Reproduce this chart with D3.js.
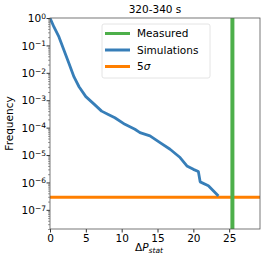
<!DOCTYPE html>
<html>
<head>
<meta charset="utf-8">
<script src="https://cdn.jsdelivr.net/npm/d3@7"></script>
<style>
  body { margin: 0; background: #fff; }
  text { font-family: "DejaVu Sans", sans-serif; fill: #000; }
</style>
</head>
<body>
<div id="chart"></div>
<script>
// simulated distribution
var simX = [0, 0.55, 1.25, 1.95, 2.65, 3.35, 4.05, 5.0, 6.15, 7.2, 8.2, 9.05, 10.45, 11.85, 12.55, 13.95, 15.35, 16.75, 18.15, 19.1, 20.0, 20.7, 20.95, 22.1, 23.5];
var simY = [1, 0.47, 0.204, 0.066, 0.0219, 0.0071, 0.0031, 0.00135, 0.00072, 0.0004, 0.000295, 0.000229, 0.000132, 0.000087, 0.000066, 0.00005, 0.0000282, 0.0000162, 0.0000081, 0.000004, 0.000003, 0.0000025, 0.00000105, 0.00000076, 0.00000032];
var measured = 25.45;
var fiveSigma = 2.87e-7;
var xTicks = [0, 5, 10, 15, 20, 25];
var yExps = [0, -1, -2, -3, -4, -5, -6, -7];
var legendNames = ["Measured", "Simulations", "5σ"];
var legendColors = ["#4daf4a", "#377eb8", "#ff7f00"];

var W = 266, H = 266;
var margin = {left: 50, top: 18, right: 6, bottom: 37};
var width = W - margin.left - margin.right;
var height = H - margin.top - margin.bottom;

var svg = d3.select("#chart").append("svg")
    .attr("width", W)
    .attr("height", H);

var g = svg.append("g")
    .attr("transform", "translate(" + margin.left + "," + margin.top + ")");

var x = d3.scaleLinear().domain([0, 29.3]).range([0, width]);
var y = d3.scaleLog().domain([2e-8, 1]).range([height, 0]);

// clip
svg.append("defs").append("clipPath").attr("id", "clip")
    .append("rect").attr("width", width).attr("height", height);

var plot = g.append("g").attr("clip-path", "url(#clip)");

// 5 sigma line
plot.append("line")
    .attr("x1", 0).attr("x2", width)
    .attr("y1", y(fiveSigma)).attr("y2", y(fiveSigma))
    .attr("stroke", legendColors[2]).attr("stroke-width", 3);

// simulations
var sim = simX.map(function (d, i) { return {x: d, y: simY[i]}; });
plot.append("path")
    .datum(sim)
    .attr("fill", "none")
    .attr("stroke", legendColors[1])
    .attr("stroke-width", 2.8)
    .attr("stroke-linejoin", "round")
    .attr("d", d3.line()
        .x(function (d) { return x(d.x); })
        .y(function (d) { return y(d.y); }));

// measured
plot.append("line")
    .attr("x1", x(measured)).attr("x2", x(measured))
    .attr("y1", 0).attr("y2", height)
    .attr("stroke", legendColors[0]).attr("stroke-width", 4);

// x axis
var xAxis = g.append("g")
    .attr("transform", "translate(0," + height + ")")
    .call(d3.axisBottom(x).tickValues(xTicks).tickSize(3.5).tickPadding(2).tickFormat(d3.format("d")));
xAxis.select(".domain").remove();
xAxis.selectAll(".tick line").attr("stroke", "#333");
xAxis.selectAll("text").style("font-size", "10.5px");

// y axis, major + minor ticks
var minor = [];
for (var e = -8; e < 0; e++) {
    for (var k = 2; k <= 9; k++) {
        var v = k * Math.pow(10, e);
        if (v >= 2e-8 && v <= 1) minor.push(v);
    }
}
var yMinor = g.append("g")
    .call(d3.axisLeft(y).tickValues(minor).tickSize(2).tickFormat(""));
yMinor.select(".domain").remove();
yMinor.selectAll(".tick line").attr("stroke", "#555").attr("stroke-width", 0.6);

var yAxis = g.append("g")
    .call(d3.axisLeft(y).tickValues(yExps.map(function (d) { return Math.pow(10, d); }))
        .tickSize(3.5).tickPadding(2).tickFormat(""));
yAxis.select(".domain").remove();
yAxis.selectAll(".tick line").attr("stroke", "#333");
yAxis.selectAll(".tick").append("text")
    .attr("x", -4).attr("dy", "0.35em")
    .attr("text-anchor", "end")
    .style("font-size", "10.5px")
    .each(function (d) {
        var t = d3.select(this);
        var ex = Math.round(Math.log10(d));
        t.append("tspan").text("10");
        t.append("tspan").attr("dy", "-0.45em").style("font-size", "7.5px")
            .text(ex === 0 ? "0" : "\u2212" + Math.abs(ex));
    });

// spines
g.append("rect")
    .attr("width", width).attr("height", height)
    .attr("fill", "none").attr("stroke", "#555").attr("stroke-width", 0.8);

// title
svg.append("text")
    .attr("x", margin.left + width / 2).attr("y", 13)
    .attr("text-anchor", "middle")
    .style("font-size", "10.5px")
    .text("320-340 s");

// axis labels
var xl = svg.append("text")
    .attr("x", margin.left + width / 2 - 6).attr("y", 251)
    .attr("text-anchor", "middle")
    .style("font-size", "10.5px");
xl.append("tspan").text("\u0394");
xl.append("tspan").style("font-style", "italic").text("P");
xl.append("tspan").attr("dy", "0.3em").style("font-size", "7.5px").style("font-style", "italic").text("stat");

svg.append("text")
    .attr("transform", "translate(13," + (margin.top + height / 2) + ") rotate(-90)")
    .attr("text-anchor", "middle")
    .style("font-size", "10.5px")
    .text("Frequency");

// legend
var lg = svg.append("g").attr("transform", "translate(102,24)");
lg.append("rect")
    .attr("width", 108).attr("height", 54)
    .attr("rx", 2)
    .attr("fill", "#fff").attr("fill-opacity", 0.8)
    .attr("stroke", "#ddd").attr("stroke-width", 0.8);
legendNames.forEach(function (name, i) {
    var ly = 9.5 + i * 16.5;
    lg.append("line")
        .attr("x1", 3).attr("x2", 28)
        .attr("y1", ly).attr("y2", ly)
        .attr("stroke", legendColors[i]).attr("stroke-width", 3);
    var t = lg.append("text")
        .attr("x", 35).attr("y", ly).attr("dy", "0.35em")
        .style("font-size", "10.5px");
    if (name === "5σ") {
        t.append("tspan").text("5");
        t.append("tspan").style("font-style", "italic").text("σ");
    } else {
        t.text(name);
    }
});
</script>
</body>
</html>
